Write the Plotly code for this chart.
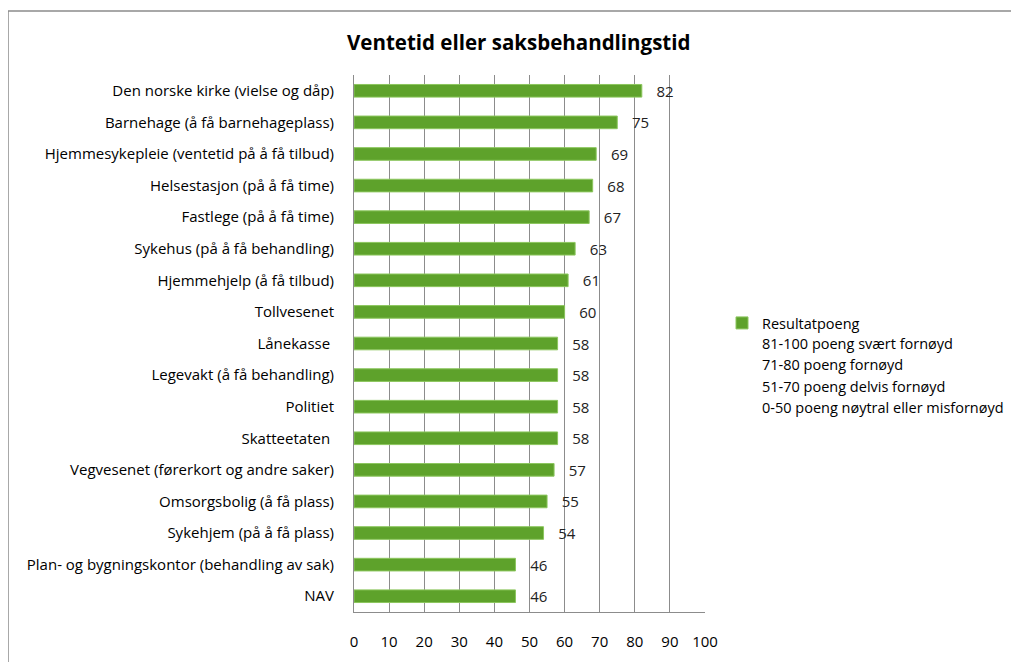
import plotly.graph_objects as go

categories = [
    "Den norske kirke (vielse og dåp)",
    "Barnehage (å få barnehageplass)",
    "Hjemmesykepleie (ventetid på å få tilbud)",
    "Helsestasjon (på å få time)",
    "Fastlege (på å få time)",
    "Sykehus (på å få behandling)",
    "Hjemmehjelp (å få tilbud)",
    "Tollvesenet",
    "Lånekasse ",
    "Legevakt (å få behandling)",
    "Politiet",
    "Skatteetaten ",
    "Vegvesenet (førerkort og andre saker)",
    "Omsorgsbolig (å få plass)",
    "Sykehjem (på å få plass)",
    "Plan- og bygningskontor (behandling av sak)",
    "NAV",
]
values = [82, 75, 69, 68, 67, 63, 61, 60, 58, 58, 58, 58, 57, 55, 54, 46, 46]
x_ticks = [0, 10, 20, 30, 40, 50, 60, 70, 80, 90, 100]
series_name = "Resultatpoeng"
legend_notes = [
    "81-100 poeng svært fornøyd",
    "71-80 poeng fornøyd",
    "51-70 poeng delvis fornøyd",
    "0-50 poeng nøytral eller misfornøyd",
]
title = "Ventetid eller saksbehandlingstid"

FONT = "Open Sans"
OFF = 8  # page body margin
W, H = 1019 - OFF, 662 - OFF
L, R, T, B = 354, 705, 75, 612  # plot area in page pixels

def px(x):
    return (x - L) / (R - L)

def py(y):
    return (B - y) / (B - T)

fig = go.Figure()
fig.add_trace(go.Bar(
    y=categories, x=values, orientation="h", name=series_name,
    marker=dict(color="#5EA22B", line=dict(color="#8CC65E", width=1)),
    text=[str(v) for v in values], texttemplate="   %{text}", textposition="outside",
    constraintext="none",
    textfont=dict(family=FONT, size=15, color="#222222"),
    cliponaxis=False,
))

annotations = [dict(
    text=f"<b>{title}</b>", x=px(519), y=py(42), xref="paper", yref="paper",
    showarrow=False, font=dict(family=FONT, size=20.5, color="#000000"),
    xanchor="center", yanchor="middle",
)]
note_x = 761
note_y = [343, 364, 386, 407]
for t, yy in zip(legend_notes, note_y):
    annotations.append(dict(
        text=t, x=px(note_x), y=py(yy), xref="paper", yref="paper",
        showarrow=False, font=dict(family=FONT, size=14.5, color="#000000"),
        xanchor="left", yanchor="middle", xshift=-1,
    ))

fig.update_layout(
    width=W, height=H,
    margin=dict(l=L - OFF, r=W - (R - OFF), t=T - OFF, b=H - (B - OFF), pad=0),
    paper_bgcolor="white", plot_bgcolor="white",
    bargap=0.6,
    showlegend=True,
    legend=dict(x=px(note_x - 39), y=py(323), xanchor="left", yanchor="middle",
                font=dict(family=FONT, size=14.5, color="#000000"),
                bgcolor="rgba(0,0,0,0)", itemclick=False, borderwidth=0),
    annotations=annotations,
    shapes=[dict(type="rect", xref="paper", yref="paper",
                 x0=px(8), x1=px(1040), y0=py(680), y1=py(11),
                 line=dict(color="#8C8C8C", width=1.5), fillcolor="rgba(0,0,0,0)",
                 layer="below")],
    font=dict(family=FONT),
)
fig.update_xaxes(
    range=[0, 100], tickvals=x_ticks, showgrid=True, gridcolor="#8C8C8C", gridwidth=1,
    showline=True, linecolor="#8C8C8C", linewidth=1, zeroline=False,
    ticks="", ticklabelstandoff=16, automargin=False,
    tickfont=dict(family=FONT, size=15, color="#000000"),
)
fig.update_yaxes(
    autorange="reversed", showgrid=False, showline=True, linecolor="#8C8C8C", linewidth=1,
    ticks="", ticklabelstandoff=16, automargin=False,
    tickfont=dict(family=FONT, size=15, color="#000000"),
)
fig.write_html("out.html")
